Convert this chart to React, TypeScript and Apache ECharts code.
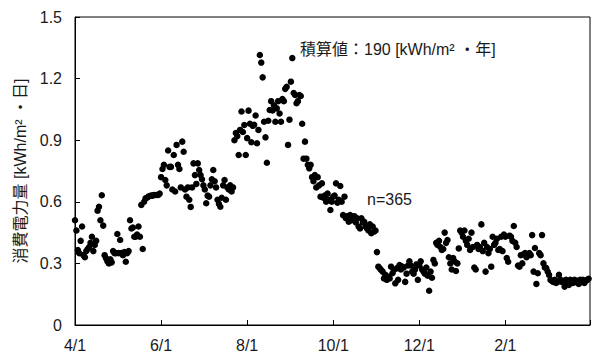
import React, { useEffect, useRef } from "react";
import * as echarts from "echarts";

// Day index 0 = 4/1
const monthTicks = [0, 61, 122, 183, 244, 305];
const monthLabels = ["4/1", "6/1", "8/1", "10/1", "12/1", "2/1"];
const yTicks = ["0", "0.3", "0.6", "0.9", "1.2", "1.5"];

const apr = [0.51, 0.46, 0.365, 0.35, 0.41, 0.48, 0.34, 0.33, 0.36, 0.37, 0.38, 0.40, 0.43, 0.36, 0.39, 0.41, 0.557, 0.576, 0.51, 0.632, 0.484, 0.34, 0.325, 0.31, 0.30, 0.32, 0.305, 0.36, 0.35, 0.35];
const may = [0.443, 0.35, 0.414, 0.35, 0.34, 0.355, 0.308, 0.35, 0.36, 0.51, 0.47, 0.475, 0.43, 0.43, 0.44, 0.48, 0.43, 0.585, 0.37, 0.60, 0.617, 0.62, 0.625, 0.628, 0.63, 0.63, 0.633, 0.633, 0.633, 0.633, 0.64];
const jun = [0.72, 0.76, 0.78, 0.706, 0.68, 0.85, 0.77, 0.77, 0.66, 0.828, 0.65, 0.877, 0.78, 0.76, 0.67, 0.893, 0.844, 0.66, 0.625, 0.67, 0.61, 0.575, 0.67, 0.787, 0.73, 0.687, 0.787, 0.755, 0.73, 0.71];
const jul = [0.68, 0.66, 0.593, 0.63, 0.625, 0.68, 0.71, 0.755, 0.70, 0.67, 0.61, 0.59, 0.576, 0.62, 0.68, 0.706, 0.61, 0.67, 0.66, 0.68, 0.65, 0.67, 0.90, 0.935, 0.92, 0.828, 0.95, 1.04, 0.94, 0.974, 0.828];
const aug = [0.91, 1.044, 0.98, 0.89, 0.97, 0.975, 1.02, 0.885, 0.95, 1.315, 1.278, 1.206, 0.99, 0.914, 0.79, 0.995, 1.047, 1.09, 1.045, 1.07, 0.99, 1.055, 1.09, 1.03, 0.99, 1.10, 1.09, 1.15, 1.16, 0.877, 1.0];
const sep = [1.185, 1.3, 1.13, 1.12, 1.08, 1.09, 1.12, 1.115, 0.98, 0.81, 0.893, 0.81, 0.78, 0.763, 0.78, 0.72, 0.70, 0.73, 0.67, 0.72, 0.68, 0.625, 0.69, 0.62, 0.63, 0.60, 0.64, 0.61, 0.56, 0.60];
const oct = [0.625, 0.63, 0.69, 0.596, 0.61, 0.677, 0.60, 0.535, 0.625, 0.52, 0.53, 0.503, 0.535, 0.51, 0.52, 0.53, 0.50, 0.52, 0.48, 0.47, 0.52, 0.50, 0.503, 0.48, 0.47, 0.46, 0.49, 0.447, 0.48, 0.455, 0.46];
const nov = [0.355, 0.284, 0.276, 0.268, 0.26, 0.227, 0.244, 0.22, 0.235, 0.227, 0.284, 0.252, 0.268, 0.203, 0.276, 0.22, 0.292, 0.27, 0.285, 0.28, 0.21, 0.25, 0.29, 0.31, 0.29, 0.26, 0.25, 0.27, 0.295, 0.22];
const dec = [0.29, 0.31, 0.27, 0.26, 0.25, 0.28, 0.24, 0.167, 0.26, 0.23, 0.317, 0.30, 0.40, 0.39, 0.41, 0.38, 0.365, 0.37, 0.45, 0.40, 0.414, 0.33, 0.30, 0.27, 0.326, 0.31, 0.263, 0.30, 0.373, 0.46, 0.45];
const jan = [0.43, 0.46, 0.41, 0.39, 0.42, 0.365, 0.45, 0.38, 0.28, 0.27, 0.39, 0.37, 0.38, 0.49, 0.36, 0.40, 0.26, 0.38, 0.35, 0.37, 0.284, 0.43, 0.39, 0.40, 0.42, 0.365, 0.37, 0.43, 0.36, 0.44, 0.43];
const feb = [0.326, 0.308, 0.435, 0.43, 0.41, 0.482, 0.40, 0.38, 0.29, 0.284, 0.34, 0.30, 0.345, 0.35, 0.33, 0.34, 0.35, 0.34, 0.438, 0.26, 0.375, 0.2, 0.252, 0.35, 0.34, 0.438, 0.30, 0.28];
const mar = [0.277, 0.26, 0.244, 0.22, 0.215, 0.21, 0.22, 0.205, 0.21, 0.244, 0.22, 0.21, 0.215, 0.187, 0.22, 0.21, 0.195, 0.22, 0.215, 0.205, 0.22, 0.21, 0.215, 0.2, 0.22, 0.21, 0.22, 0.205, 0.215, 0.22, 0.225];

const dailyValues = [...apr, ...may, ...jun, ...jul, ...aug, ...sep, ...oct, ...nov, ...dec, ...jan, ...feb, ...mar];

const FONT = "'Liberation Sans', Arial, 'Noto Sans CJK JP', sans-serif";
const TXT = "#1a1a1a";

export default function App() {
  const ref = useRef<HTMLDivElement>(null);
  useEffect(() => {
    if (!ref.current) return;
    const chart = echarts.init(ref.current, null, { renderer: "svg" });
    const data = dailyValues.map((v, i) => [i, v]);
    chart.setOption({
      animation: false,
      textStyle: { fontFamily: FONT },
      grid: {
        left: 75,
        right: 3,
        top: 17,
        bottom: 30,
        show: true,
        borderColor: "#000",
        borderWidth: 1,
        backgroundColor: "transparent",
      },
      xAxis: {
        type: "value",
        min: 0,
        max: 365,
        interval: 61,
        splitLine: { show: false },
        axisLine: { lineStyle: { color: "#000", width: 1 } },
        axisTick: { inside: true, length: 5, lineStyle: { color: "#000" } },
        axisLabel: {
          color: TXT,
          fontSize: 16,
          fontFamily: FONT,
          margin: 12,
          formatter: (v: number) => {
            const i = monthTicks.indexOf(Math.round(v));
            return i >= 0 ? monthLabels[i] : "";
          },
        },
      },
      yAxis: {
        type: "value",
        min: 0,
        max: 1.5,
        interval: 0.3,
        splitLine: { show: false },
        axisLine: { show: true, lineStyle: { color: "#000", width: 1 } },
        axisTick: { show: true, inside: true, length: 5, lineStyle: { color: "#000" } },
        axisLabel: {
          color: TXT,
          fontSize: 16,
          fontFamily: FONT,
          margin: 13,
          formatter: (v: number) => yTicks[Math.round(v / 0.3)] ?? "",
        },
        name: "消費電力量 [kWh/m² ・日]",
        nameLocation: "middle",
        nameGap: 44,
        nameTextStyle: { color: TXT, fontSize: 16, fontFamily: FONT },
      },
      series: [
        {
          type: "scatter",
          data,
          symbol: "circle",
          symbolSize: 6.5,
          itemStyle: { color: "#000", opacity: 1 },
        },
      ],
      graphic: [
        {
          type: "text",
          left: 300,
          top: 41,
          style: { text: "積算値：190 [kWh/m² ・年]", fill: TXT, fontSize: 16, fontFamily: FONT },
        },
        {
          type: "text",
          left: 367,
          top: 191,
          style: { text: "n=365", fill: TXT, fontSize: 16, fontFamily: FONT },
        },
      ],
    });
    return () => chart.dispose();
  }, []);
  return <div ref={ref} style={{ width: 593, height: 355, position: "absolute", left: 0, top: 0 }} />;
}
